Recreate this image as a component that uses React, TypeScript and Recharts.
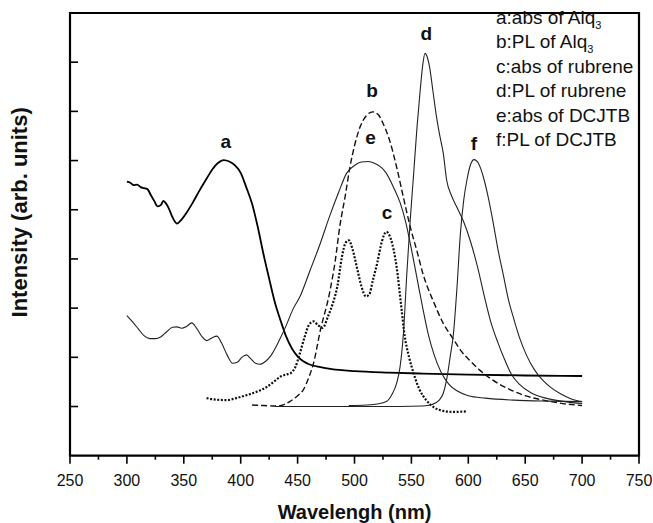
import {
  Legend,
  Line,
  LineChart,
  ReferenceArea,
  ReferenceDot,
  XAxis,
  YAxis,
} from "recharts"

// [wavelength (nm), intensity (arb.)]
const absAlq3: [number, number][] = [
  [300, 5.57], [303, 5.55], [306, 5.5], [309, 5.51], [312, 5.46], [315, 5.44],
  [318, 5.42], [321, 5.3], [324, 5.18], [327, 5.07], [330, 5.1], [332, 5.18],
  [334, 5.14], [337, 5.02], [340, 4.85], [344, 4.72], [348, 4.8], [353, 4.96],
  [358, 5.15], [364, 5.4], [370, 5.63], [375, 5.82], [380, 5.95], [385, 6.01],
  [390, 5.98], [395, 5.9], [400, 5.75], [405, 5.45], [410, 5.12], [415, 4.65],
  [420, 4.1], [425, 3.6], [430, 3.12], [435, 2.75], [440, 2.42], [445, 2.18],
  [450, 2.02], [455, 1.92], [460, 1.86], [470, 1.8], [480, 1.76], [500, 1.72],
  [530, 1.69], [560, 1.67], [600, 1.65], [650, 1.63], [700, 1.62],
]

const plAlq3: [number, number][] = [
  [410, 1.03], [420, 1.02], [432, 1.01], [438, 1.04], [443, 1.1], [450, 1.22],
  [455, 1.34], [460, 1.6], [464, 1.88], [470, 2.55], [478, 3.3], [483, 3.95],
  [487, 4.65], [492, 5.3], [496, 5.87], [500, 6.3], [505, 6.69], [510, 6.9],
  [516, 6.99], [521, 6.93], [525, 6.76], [531, 6.4], [537, 5.87], [543, 5.25],
  [549, 4.65], [555, 4.15], [560, 3.71], [570, 3.1], [578, 2.69], [586, 2.4],
  [594, 2.12], [602, 1.92], [610, 1.74], [620, 1.56], [637, 1.34], [650, 1.22],
  [666, 1.13], [680, 1.07], [700, 1.02],
]

const absRubrene: [number, number][] = [
  [370, 1.17], [378, 1.14], [388, 1.13], [396, 1.17], [405, 1.23], [414, 1.3],
  [423, 1.4], [430, 1.52], [435, 1.61], [440, 1.65], [444, 1.68], [448, 1.8],
  [452, 2.08], [456, 2.4], [460, 2.66], [464, 2.73], [468, 2.65], [472, 2.6],
  [477, 2.85], [481, 3.1], [485, 3.45], [489, 4.05], [492, 4.32], [495, 4.38],
  [498, 4.22], [502, 3.84], [506, 3.45], [510, 3.24], [513, 3.28], [516, 3.55],
  [520, 3.92], [524, 4.35], [528, 4.55], [532, 4.4], [537, 3.84], [541, 3.05],
  [544, 2.45], [548, 2.0], [552, 1.67], [557, 1.35], [563, 1.13], [570, 0.98],
  [578, 0.91], [587, 0.89], [598, 0.9],
]

const plRubrene: [number, number][] = [
  [495, 1.02], [510, 1.03], [520, 1.05], [528, 1.1], [533, 1.25], [537, 1.47],
  [540, 1.8], [543, 2.49], [546, 3.71], [549, 4.8], [552, 5.74], [555, 6.7],
  [558, 7.5], [560, 7.95], [562, 8.18], [564, 8.1], [566, 7.9], [569, 7.4],
  [572, 6.9], [575, 6.5], [578, 6.15], [581, 5.6], [585, 5.3], [590, 5.05],
  [596, 4.75], [602, 4.35], [608, 3.85], [614, 3.25], [620, 2.7], [626, 2.3],
  [632, 1.95], [638, 1.65], [645, 1.45], [655, 1.28], [668, 1.17], [685, 1.1],
  [700, 1.06],
]

const absDCJTB: [number, number][] = [
  [300, 2.85], [305, 2.72], [310, 2.58], [315, 2.44], [320, 2.38], [325, 2.38],
  [330, 2.42], [335, 2.52], [340, 2.61], [344, 2.62], [348, 2.59], [352, 2.62],
  [357, 2.7], [361, 2.6], [366, 2.42], [370, 2.34], [375, 2.4], [379, 2.43],
  [383, 2.3], [388, 2.05], [393, 1.88], [397, 1.9], [401, 2.0], [405, 2.05],
  [409, 1.97], [413, 1.88], [417, 1.86], [422, 1.92], [427, 2.05], [434, 2.35],
  [440, 2.65], [446, 2.98], [452, 3.23], [461, 3.77], [470, 4.32], [478, 4.86],
  [486, 5.35], [493, 5.74], [500, 5.9], [506, 5.97], [512, 5.98], [518, 5.94],
  [524, 5.85], [528, 5.74], [535, 5.42], [540, 5.15], [545, 4.75], [550, 4.2],
  [555, 3.6], [560, 3.0], [565, 2.45], [570, 2.05], [576, 1.7], [583, 1.45],
  [590, 1.32], [600, 1.22], [615, 1.17], [640, 1.13], [670, 1.11], [700, 1.1],
]

const plDCJTB: [number, number][] = [
  [430, 1.0], [460, 1.0], [500, 1.0], [540, 1.0], [560, 1.01], [568, 1.04],
  [574, 1.12], [578, 1.27], [581, 1.55], [584, 2.0], [587, 2.49], [590, 3.4],
  [593, 4.5], [596, 5.2], [599, 5.63], [602, 5.92], [605, 6.02], [608, 5.98],
  [611, 5.83], [614, 5.6], [618, 5.2], [622, 4.72], [626, 4.2], [631, 3.65],
  [635, 3.2], [640, 2.78], [645, 2.4], [651, 2.05], [658, 1.75], [666, 1.52],
  [673, 1.38], [681, 1.26], [690, 1.16], [700, 1.1],
]

const xTicks = [
  250, 275, 300, 325, 350, 375, 400, 425, 450, 475, 500, 525, 550, 575, 600,
  625, 650, 675, 700, 725, 750,
]
const yTicks = [1, 2, 3, 4, 5, 6, 7, 8]

// curve letters: [letter, nm, intensity]
const curveLabels: [string, number, number][] = [
  ["a", 387, 6.4],
  ["b", 515.5, 7.43],
  ["e", 514, 6.48],
  ["c", 528.5, 4.95],
  ["d", 563, 8.59],
  ["f", 605, 6.35],
]

const legendRows: [string, boolean][] = [
  ["a:abs of Alq", true],
  ["b:PL of Alq", true],
  ["c:abs of rubrene", false],
  ["d:PL of rubrene", false],
  ["e:abs of DCJTB", false],
  ["f:PL of DCJTB", false],
]

const font = '"Liberation Sans", Arial, sans-serif'

const toPoints = (arr: [number, number][]) => arr.map(([x, y]) => ({ x, y }))

const XTick = (props: any) => {
  const { x, y, payload } = props
  const major = payload.value % 50 === 0
  return (
    <g>
      <line x1={x} y1={y} x2={x} y2={y + (major ? 8 : 4)} stroke="#000" strokeWidth={1.6} />
      {major && (
        <text x={x} y={y + 30.5} textAnchor="middle" fontSize={16} fontFamily={font} fill="#111">
          {payload.value}
        </text>
      )}
    </g>
  )
}

const YTick = (props: any) => {
  const { x, y } = props
  return <line x1={x} y1={y} x2={x + 8} y2={y} stroke="#000" strokeWidth={1.6} />
}

const XTitle = (props: any) => {
  const vb = props.viewBox ?? { x: 70, y: 455.7, width: 569, height: 67.3 }
  return (
    <text
      x={vb.x + vb.width / 2}
      y={vb.y + 63.3}
      textAnchor="middle"
      fontSize={20}
      fontWeight="bold"
      fontFamily={font}
      fill="#111"
    >
      Wavelengh (nm)
    </text>
  )
}

const YTitle = (props: any) => {
  const vb = props.viewBox ?? { x: 0, y: 13, width: 70, height: 442.7 }
  const cx = vb.x + vb.width - 50
  const cy = vb.y + vb.height / 2 - 22
  return (
    <text
      x={cx}
      y={cy}
      transform={`rotate(-90 ${cx} ${cy})`}
      textAnchor="middle"
      dominantBaseline="central"
      fontSize={22}
      fontWeight="bold"
      fontFamily={font}
      fill="#111"
    >
      Intensity (arb. units)
    </text>
  )
}

const LegendBox = () => (
  <div style={{ fontFamily: font, fontSize: 19, color: "#111", whiteSpace: "nowrap" }}>
    {legendRows.map(([text, sub]) => (
      <div key={text} style={{ height: 24.4, lineHeight: "24.4px" }}>
        {text}
        {sub && <span style={{ position: "relative", top: 5, fontSize: 11 }}>3</span>}
      </div>
    ))}
  </div>
)

export default function App() {
  return (
    <>
      <style>{"body { margin: 0; }"}</style>
      <LineChart width={653} height={523} margin={{ top: 13, right: 14, bottom: 0, left: 0 }}>
        <XAxis
          type="number"
          dataKey="x"
          domain={[250, 750]}
          ticks={xTicks}
          interval={0}
          allowDataOverflow
          height={67.3}
          tickSize={0}
          tickMargin={0}
          tickLine={false}
          axisLine={false}
          tick={<XTick />}
          label={<XTitle />}
        />
        <YAxis
          type="number"
          domain={[0, 9]}
          ticks={yTicks}
          interval={0}
          allowDataOverflow
          width={70}
          tickSize={0}
          tickMargin={0}
          tickLine={false}
          axisLine={false}
          tick={<YTick />}
          label={<YTitle />}
        />
        <ReferenceArea x1={250} x2={750} y1={0} y2={9} fill="none" stroke="#000" strokeWidth={2.2} />
        <Line data={toPoints(absAlq3)} dataKey="y" type="monotone" stroke="#000" strokeWidth={1.8} dot={false} isAnimationActive={false} />
        <Line data={toPoints(plAlq3)} dataKey="y" type="monotone" stroke="#111" strokeWidth={1.4} strokeDasharray="6 3" dot={false} isAnimationActive={false} />
        <Line data={toPoints(absRubrene)} dataKey="y" type="monotone" stroke="#111" strokeWidth={2.2} strokeDasharray="2 1.6" dot={false} isAnimationActive={false} />
        <Line data={toPoints(plRubrene)} dataKey="y" type="monotone" stroke="#222" strokeWidth={1.1} dot={false} isAnimationActive={false} />
        <Line data={toPoints(absDCJTB)} dataKey="y" type="monotone" stroke="#222" strokeWidth={1.1} dot={false} isAnimationActive={false} />
        <Line data={toPoints(plDCJTB)} dataKey="y" type="monotone" stroke="#222" strokeWidth={1.1} dot={false} isAnimationActive={false} />
        {curveLabels.map(([name, x, y]) => (
          <ReferenceDot
            key={name}
            x={x}
            y={y}
            r={0}
            stroke="none"
            label={{ value: name, position: "center", fontSize: 19, fontWeight: "bold", fontFamily: font, fill: "#111" }}
          />
        ))}
        <Legend
          layout="horizontal"
          verticalAlign="middle"
          align="center"
          content={<LegendBox />}
          wrapperStyle={{ top: 6, left: 496, width: "auto" }}
        />
      </LineChart>
    </>
  )
}
